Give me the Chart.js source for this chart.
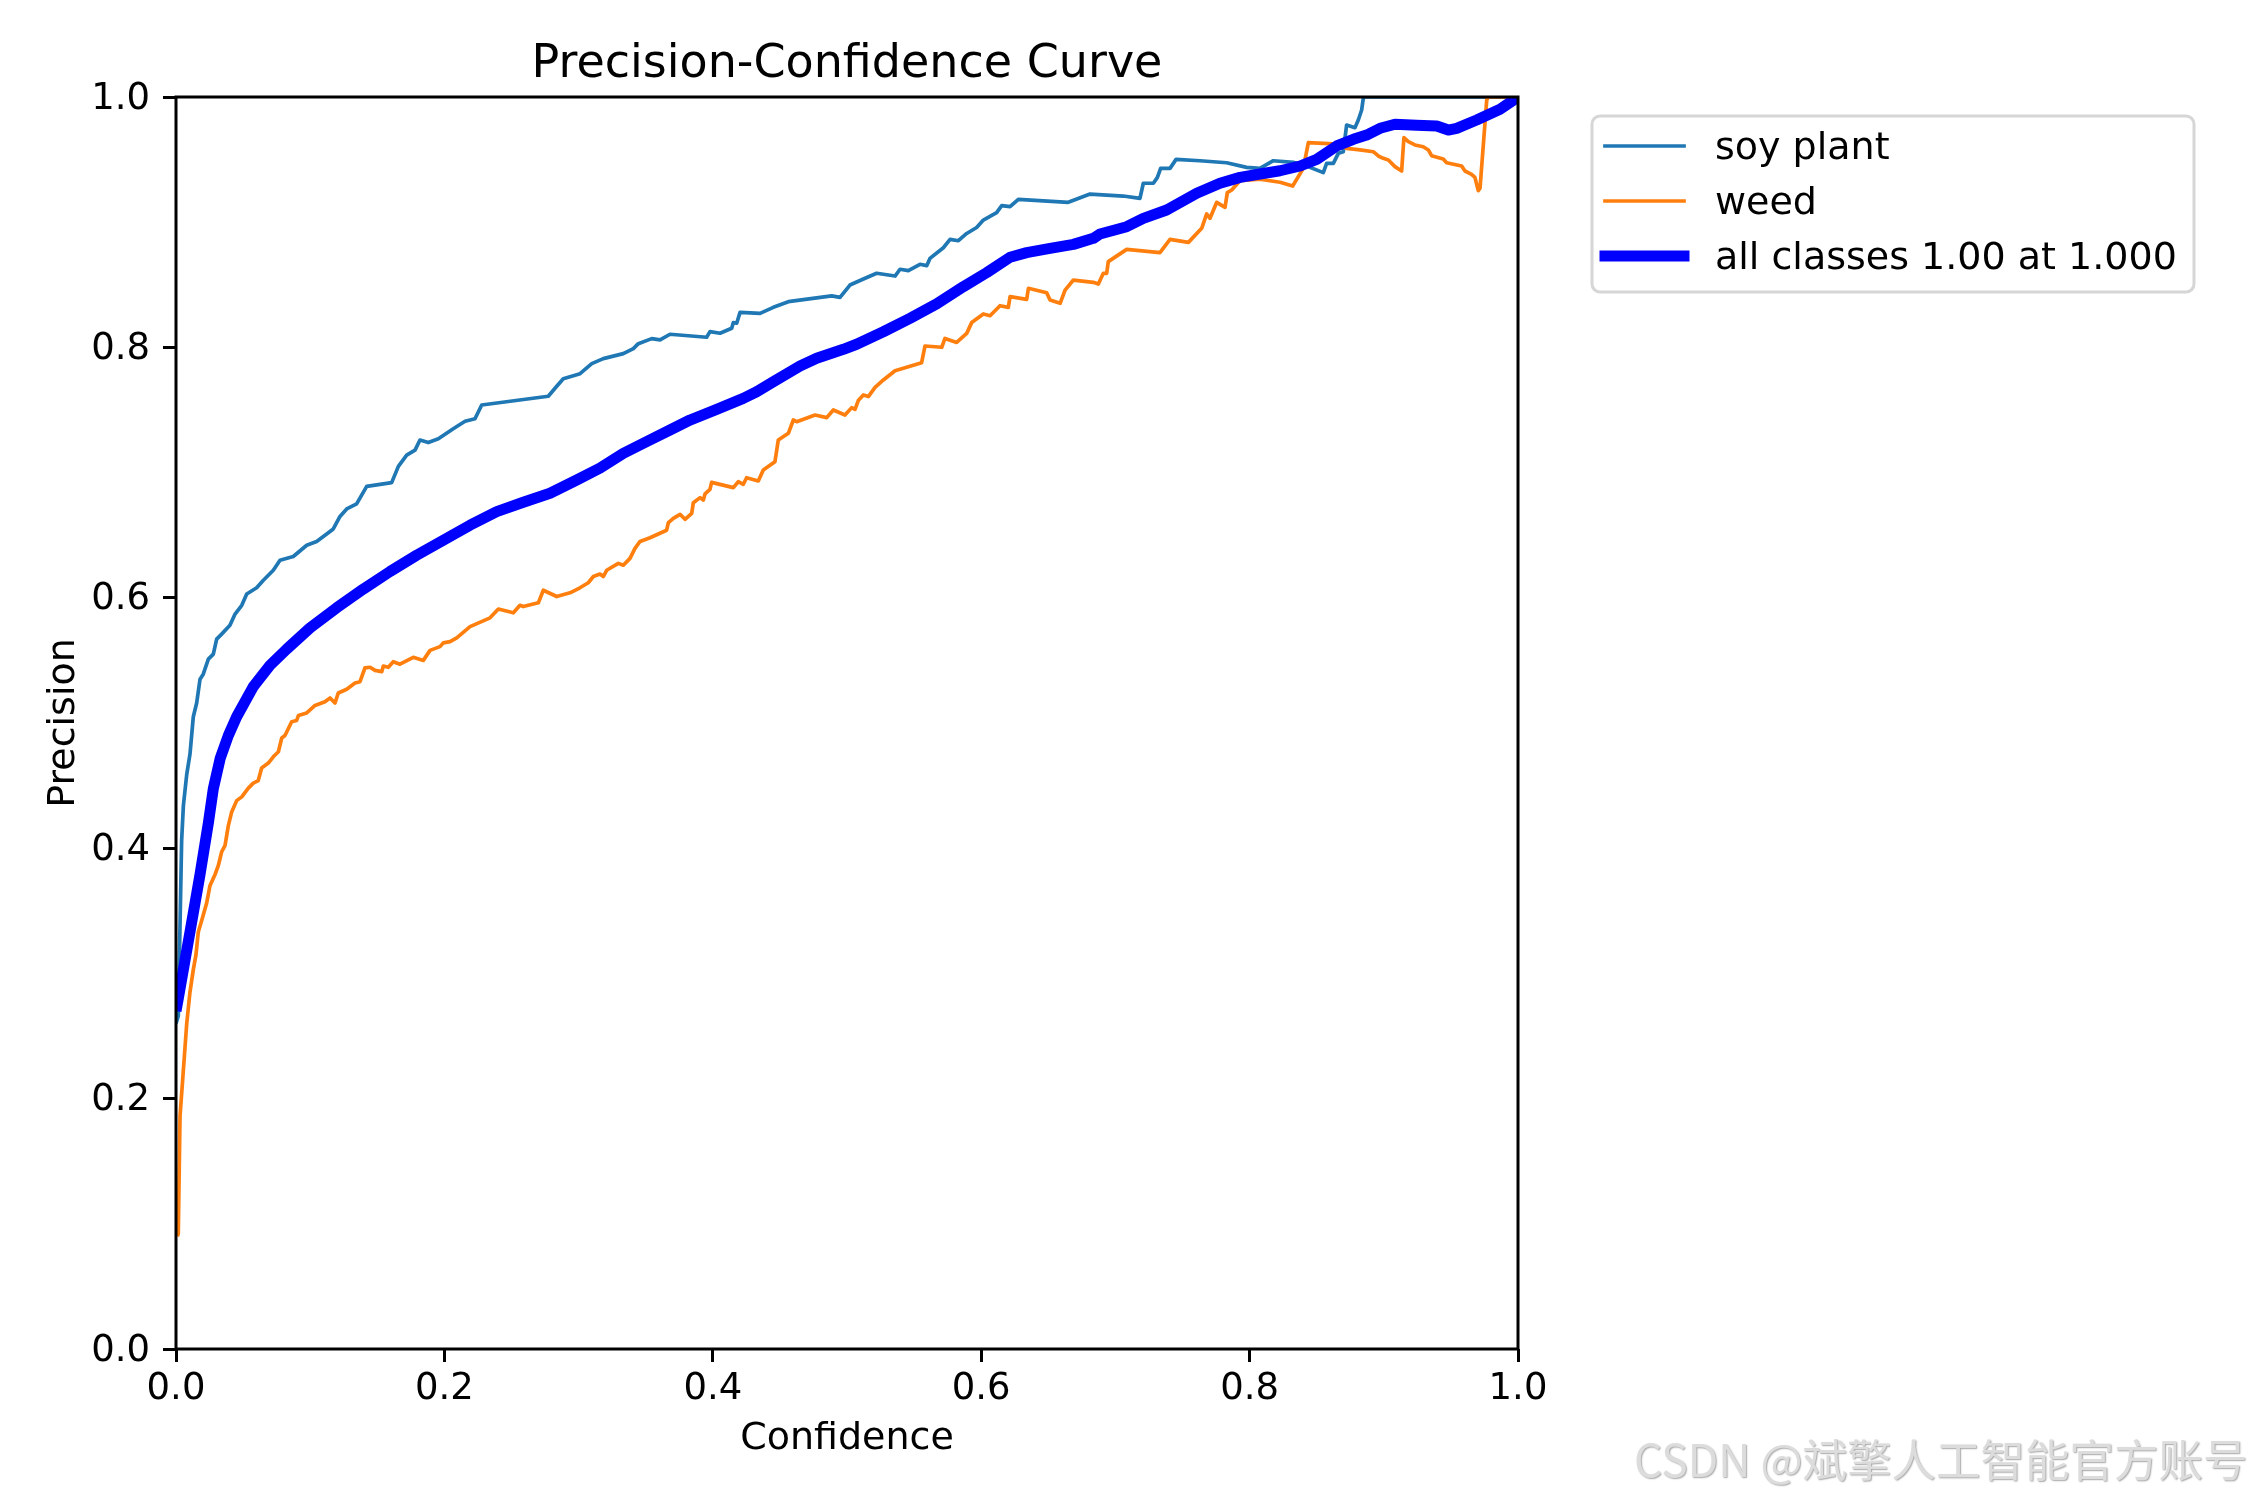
<!DOCTYPE html>
<html>
<head>
<meta charset="utf-8">
<title>Precision-Confidence Curve</title>
<script src="https://cdn.jsdelivr.net/npm/chart.js@4.4.1/dist/chart.umd.min.js"></script>
<style>
    html, body { margin: 0; padding: 0; background: #fff; }
    #pcChart { display: block; }
</style>
</head>
<body>
<canvas id="pcChart" width="2250" height="1500"></canvas>
<script>
// values
const soyConf = [0, 0.0017, 0.0042, 0.0055, 0.008, 0.0104, 0.0129, 0.0154, 0.0179, 0.0203, 0.0241, 0.0278,
    0.0303, 0.034, 0.0402, 0.044, 0.049, 0.0527, 0.0601, 0.0651, 0.0725, 0.0775, 0.0874, 0.0974, 0.1048,
    0.1098, 0.1172, 0.1222, 0.1272, 0.1346, 0.1421, 0.1607, 0.1657, 0.1719, 0.1781, 0.1818, 0.188, 0.1955,
    0.2066, 0.2154, 0.2228, 0.2278, 0.2774, 0.2837, 0.2886, 0.3011, 0.3098, 0.3184, 0.3333, 0.3408, 0.3445,
    0.3545, 0.3607, 0.3681, 0.3954, 0.3979, 0.4054, 0.4141, 0.4153, 0.4178, 0.4203, 0.4352, 0.4451, 0.4563,
    0.4886, 0.4948, 0.5022, 0.5122, 0.5221, 0.5358, 0.5395, 0.5457, 0.5544, 0.5594, 0.5618, 0.5718, 0.5768,
    0.583, 0.5892, 0.5966, 0.6016, 0.6115, 0.6153, 0.6215, 0.6277, 0.6649, 0.6811, 0.7059, 0.7183, 0.7208,
    0.7283, 0.7313, 0.7337, 0.7407, 0.7452, 0.763, 0.7829, 0.7978, 0.8077, 0.8177, 0.8326, 0.8425, 0.8549,
    0.8574, 0.8624, 0.8661, 0.8698, 0.8723, 0.8785, 0.881, 0.8835, 0.8847, 0.886, 1.0];
const soyPrec = [0.26, 0.266, 0.406, 0.434, 0.459, 0.475, 0.505, 0.516, 0.535, 0.539, 0.551, 0.555,
    0.567, 0.571, 0.578, 0.587, 0.594, 0.603, 0.608, 0.614, 0.622, 0.63, 0.633, 0.642, 0.645,
    0.649, 0.655, 0.665, 0.671, 0.675, 0.689, 0.692, 0.705, 0.714, 0.718, 0.726, 0.724, 0.727,
    0.735, 0.741, 0.743, 0.754, 0.761, 0.769, 0.775, 0.779, 0.787, 0.791, 0.795, 0.799, 0.803,
    0.807, 0.806, 0.8105, 0.8081, 0.8126, 0.8113, 0.8153, 0.8198, 0.8193, 0.828, 0.8272, 0.832, 0.8365,
    0.8411, 0.84, 0.8498, 0.8546, 0.8592, 0.857, 0.8624, 0.8613, 0.8664, 0.8653, 0.8711, 0.8796, 0.8863,
    0.8852, 0.891, 0.8958, 0.9017, 0.9076, 0.9132, 0.9124, 0.9183, 0.9159, 0.9225, 0.9209, 0.919, 0.9311,
    0.9311, 0.9358, 0.943, 0.943, 0.9502, 0.9491, 0.9475, 0.9438, 0.943, 0.9491, 0.9478, 0.9449, 0.9396,
    0.947, 0.947, 0.955, 0.9563, 0.9776, 0.9755, 0.9816, 0.9896, 0.9989, 1.0, 1.0];

const weedConf = [0.001, 0.0017, 0.003, 0.0055, 0.008, 0.0104, 0.0129, 0.0149, 0.0166, 0.0191, 0.0228,
    0.0253, 0.0291, 0.0315, 0.034, 0.0365, 0.039, 0.0415, 0.0452, 0.049, 0.0539, 0.0576, 0.0613, 0.0638,
    0.0688, 0.0725, 0.0763, 0.0788, 0.0812, 0.0862, 0.0899, 0.0912, 0.0974, 0.1036, 0.111, 0.1148, 0.1185,
    0.1209, 0.1272, 0.1334, 0.1371, 0.1408, 0.1446, 0.1483, 0.1533, 0.1545, 0.1582, 0.1619, 0.1669, 0.1768,
    0.1843, 0.1893, 0.1967, 0.1992, 0.2042, 0.2092, 0.2191, 0.234, 0.2402, 0.2514, 0.2563, 0.2588, 0.27,
    0.2737, 0.2837, 0.2936, 0.301, 0.3072, 0.311, 0.3159, 0.3184, 0.3209, 0.3296, 0.3333, 0.3383, 0.342,
    0.3458, 0.3532, 0.3656, 0.3669, 0.3706, 0.3756, 0.3793, 0.3843, 0.3855, 0.3905, 0.3929, 0.3942, 0.3979,
    0.3991, 0.4153, 0.419, 0.4227, 0.4252, 0.4339, 0.4376, 0.4463, 0.4488, 0.4563, 0.46, 0.4625, 0.4762,
    0.4849, 0.4898, 0.4985, 0.5035, 0.506, 0.5084, 0.5122, 0.5159, 0.5209, 0.5271, 0.5358, 0.5556, 0.5581,
    0.5706, 0.573, 0.5817, 0.5892, 0.5929, 0.6016, 0.6066, 0.614, 0.6202, 0.6215, 0.6339, 0.6352, 0.6488,
    0.6513, 0.6588, 0.6625, 0.6687, 0.6836, 0.6873, 0.691, 0.6935, 0.6947, 0.7084, 0.7332, 0.7407, 0.7544,
    0.7643, 0.768, 0.7705, 0.7755, 0.7817, 0.7834, 0.7867, 0.7929, 0.8077, 0.8227, 0.8321, 0.84, 0.8438,
    0.8624, 0.8723, 0.8823, 0.8922, 0.8959, 0.8996, 0.9034, 0.9083, 0.9133, 0.915, 0.9183, 0.9232, 0.9294,
    0.9332, 0.9356, 0.9443, 0.9468, 0.958, 0.9605, 0.9654, 0.9679, 0.9704, 0.9717, 0.9767, 0.9779, 1.0];
const weedPrec = [0.09, 0.092, 0.186, 0.223, 0.26, 0.285, 0.303, 0.315, 0.333, 0.342, 0.356,
    0.37, 0.379, 0.386, 0.397, 0.402, 0.418, 0.429, 0.438, 0.441, 0.448, 0.452, 0.454, 0.464,
    0.468, 0.473, 0.477, 0.488, 0.49, 0.501, 0.502, 0.506, 0.508, 0.514, 0.517, 0.52, 0.516,
    0.524, 0.527, 0.532, 0.533, 0.544, 0.5445, 0.542, 0.541, 0.5455, 0.5445, 0.549, 0.547, 0.5525,
    0.55, 0.558, 0.561, 0.564, 0.565, 0.568, 0.577, 0.584, 0.591, 0.588, 0.594, 0.593, 0.596,
    0.606, 0.601, 0.604, 0.608, 0.612, 0.617, 0.619, 0.617, 0.622, 0.6275, 0.626, 0.6315, 0.6395,
    0.645, 0.648, 0.654, 0.66, 0.6635, 0.6667, 0.6627, 0.6675, 0.676, 0.68, 0.678, 0.683, 0.6866,
    0.6922, 0.688, 0.6927, 0.6906, 0.6959, 0.6933, 0.702, 0.7087, 0.726, 0.7314, 0.742, 0.7407, 0.746,
    0.7439, 0.75, 0.746, 0.7519, 0.7505, 0.7575, 0.762, 0.7607, 0.7681, 0.774, 0.7814, 0.7878, 0.8011,
    0.8001, 0.8072, 0.804, 0.8112, 0.8198, 0.8267, 0.8253, 0.8333, 0.832, 0.8405, 0.8384, 0.8472, 0.8437,
    0.8379, 0.8352, 0.8458, 0.8538, 0.852, 0.8506, 0.8592, 0.8592, 0.8685, 0.8783, 0.8757, 0.8863, 0.8839,
    0.8951, 0.9066, 0.9031, 0.9159, 0.9119, 0.9236, 0.9257, 0.9332, 0.9343, 0.9319, 0.9289, 0.943, 0.9635,
    0.9625, 0.959, 0.9577, 0.9563, 0.9529, 0.951, 0.9497, 0.9444, 0.9409, 0.9675, 0.9643, 0.9617, 0.9603,
    0.9577, 0.9531, 0.9505, 0.9475, 0.9449, 0.9409, 0.9382, 0.9358, 0.9252, 0.9271, 0.9976, 1.0, 1.0];

const allConf = [0, 0.0017, 0.0104, 0.0179, 0.0241, 0.0278, 0.033, 0.039, 0.0452, 0.0576, 0.07, 0.0825,
    0.0999, 0.1197, 0.1396, 0.1595, 0.1793, 0.1992, 0.2191, 0.239, 0.2588, 0.2787, 0.2986, 0.3159, 0.3333,
    0.3507, 0.3681, 0.383, 0.4029, 0.4227, 0.4327, 0.4451, 0.465, 0.4774, 0.4973, 0.5072, 0.5271, 0.5469,
    0.5668, 0.5867, 0.6041, 0.6215, 0.6339, 0.6513, 0.6687, 0.6836, 0.6885, 0.7084, 0.7208, 0.7382, 0.7606,
    0.7779, 0.7929, 0.8077, 0.8227, 0.8376, 0.85, 0.8649, 0.8773, 0.8872, 0.8972, 0.9083, 0.9245, 0.9394,
    0.9481, 0.9543, 0.9692, 0.9866, 1.0];
const allPrec = [0.27, 0.28, 0.333, 0.379, 0.42, 0.4475, 0.472, 0.49, 0.505, 0.529, 0.546, 0.559,
    0.576, 0.592, 0.607, 0.621, 0.634, 0.646, 0.658, 0.6688, 0.6763, 0.6835, 0.6941, 0.7035, 0.7154,
    0.7247, 0.734, 0.742, 0.7505, 0.7593, 0.7646, 0.7726, 0.7851, 0.7913, 0.7985, 0.8025, 0.8125, 0.8232,
    0.8347, 0.8485, 0.8597, 0.872, 0.8757, 0.8791, 0.8823, 0.8871, 0.8906, 0.8964, 0.9031, 0.9097, 0.9231,
    0.9311, 0.9358, 0.9385, 0.9411, 0.9449, 0.9502, 0.9609, 0.9662, 0.9696, 0.975, 0.9782, 0.9774, 0.9768,
    0.9736, 0.975, 0.9816, 0.9902, 1.0];

const tickValues = [0.0, 0.2, 0.4, 0.6, 0.8, 1.0];
const seriesLabels = ['soy plant', 'weed', 'all classes 1.00 at 1.000'];

const FONT = '"DejaVu Sans", sans-serif';

function toPoints(xs, ys) {
    return xs.map((x, i) => ({ x: x, y: ys[i] }));
}

// title, axis labels, legend, spines and watermark
const decorations = {
    id: 'decorations',
    afterDatasetsDraw(chart) {
        const { ctx, chartArea: a } = chart;
        ctx.save();
        ctx.strokeStyle = '#000';
        ctx.lineWidth = 3;
        ctx.strokeRect(a.left, a.top, a.right - a.left, a.bottom - a.top);
        ctx.restore();
    },
    afterDraw(chart) {
        const { ctx, chartArea: a } = chart;
        const cx = (a.left + a.right) / 2;
        ctx.save();
        ctx.fillStyle = '#000';
        ctx.textAlign = 'center';
        ctx.textBaseline = 'alphabetic';

        ctx.font = '46px ' + FONT;
        ctx.fillText('Precision-Confidence Curve', cx, 77);

        ctx.font = '38px ' + FONT;
        ctx.fillText('Confidence', cx, 1449);

        ctx.save();
        ctx.translate(74, (a.top + a.bottom) / 2);
        ctx.rotate(-Math.PI / 2);
        ctx.fillText('Precision', 0, 0);
        ctx.restore();

        // legend
        const lx = 1592, ly = 116, lw = 602, lh = 176;
        ctx.beginPath();
        ctx.roundRect(lx, ly, lw, lh, 8);
        ctx.fillStyle = 'rgba(255,255,255,0.8)';
        ctx.fill();
        ctx.strokeStyle = '#d6d6d6';
        ctx.lineWidth = 3;
        ctx.stroke();

        ctx.textAlign = 'left';
        chart.data.datasets.forEach((ds, i) => {
            const y = 146 + i * 55;
            ctx.beginPath();
            ctx.moveTo(1605, y);
            ctx.lineTo(1684, y);
            ctx.strokeStyle = ds.borderColor;
            ctx.lineWidth = ds.borderWidth;
            ctx.lineCap = 'square';
            ctx.stroke();
            ctx.fillStyle = '#000';
            ctx.fillText(ds.label, 1715, y + 13);
        });

        // watermark
        const mark = 'CSDN @斌擎人工智能官方账号';
        let size = 45;
        ctx.font = size + 'px "Noto Sans CJK SC", sans-serif';
        size = size * 613 / ctx.measureText(mark).width;
        ctx.font = size.toFixed(1) + 'px "Noto Sans CJK SC", sans-serif';
        ctx.shadowColor = 'rgba(0,0,0,0.35)';
        ctx.shadowOffsetX = 1;
        ctx.shadowOffsetY = 1;
        ctx.shadowBlur = 1.5;
        ctx.fillStyle = '#dcdcdc';
        ctx.fillText(mark, 1634, 1477);
        ctx.restore();
    }
};

const tickFont = { family: FONT, size: 37 };

const ctx = document.getElementById('pcChart').getContext('2d');

const pcChart = new Chart(ctx, {
    type: 'line',
    data: {
        datasets: [
            {
                label: seriesLabels[0],
                data: toPoints(soyConf, soyPrec),
                borderColor: '#1f77b4',
                borderWidth: 3.7,
                order: 2
            },
            {
                label: seriesLabels[1],
                data: toPoints(weedConf, weedPrec),
                borderColor: '#ff7f0e',
                borderWidth: 3.7,
                order: 1
            },
            {
                label: seriesLabels[2],
                data: toPoints(allConf, allPrec),
                borderColor: '#0000ff',
                borderWidth: 11,
                order: 0
            }
        ]
    },
    options: {
        responsive: false,
        animation: false,
        devicePixelRatio: 1,
        layout: { padding: { left: 0, top: 97, right: 732, bottom: 0 } },
        elements: {
            point: { radius: 0 },
            line: { tension: 0, borderJoinStyle: 'round', fill: false }
        },
        plugins: {
            legend: { display: false },
            title: { display: false },
            tooltip: { enabled: false }
        },
        scales: {
            x: {
                type: 'linear',
                min: 0,
                max: 1,
                afterFit: scale => { scale.height = 151; },
                afterBuildTicks: scale => { scale.ticks = tickValues.map(v => ({ value: v })); },
                ticks: {
                    callback: v => v.toFixed(1),
                    font: tickFont,
                    color: '#000',
                    padding: 5,
                    maxRotation: 0,
                    autoSkip: false
                },
                grid: { drawOnChartArea: false, tickLength: 13, tickWidth: 3, tickColor: '#000' },
                border: { display: false }
            },
            y: {
                type: 'linear',
                min: 0,
                max: 1,
                afterFit: scale => { scale.width = 176; },
                afterBuildTicks: scale => { scale.ticks = tickValues.map(v => ({ value: v })); },
                ticks: {
                    callback: v => v.toFixed(1),
                    font: tickFont,
                    color: '#000',
                    padding: 13,
                    labelOffset: 2,
                    autoSkip: false
                },
                grid: { drawOnChartArea: false, tickLength: 13, tickWidth: 3, tickColor: '#000' },
                border: { display: false }
            }
        }
    },
    plugins: [decorations]
});
</script>
</body>
</html>
